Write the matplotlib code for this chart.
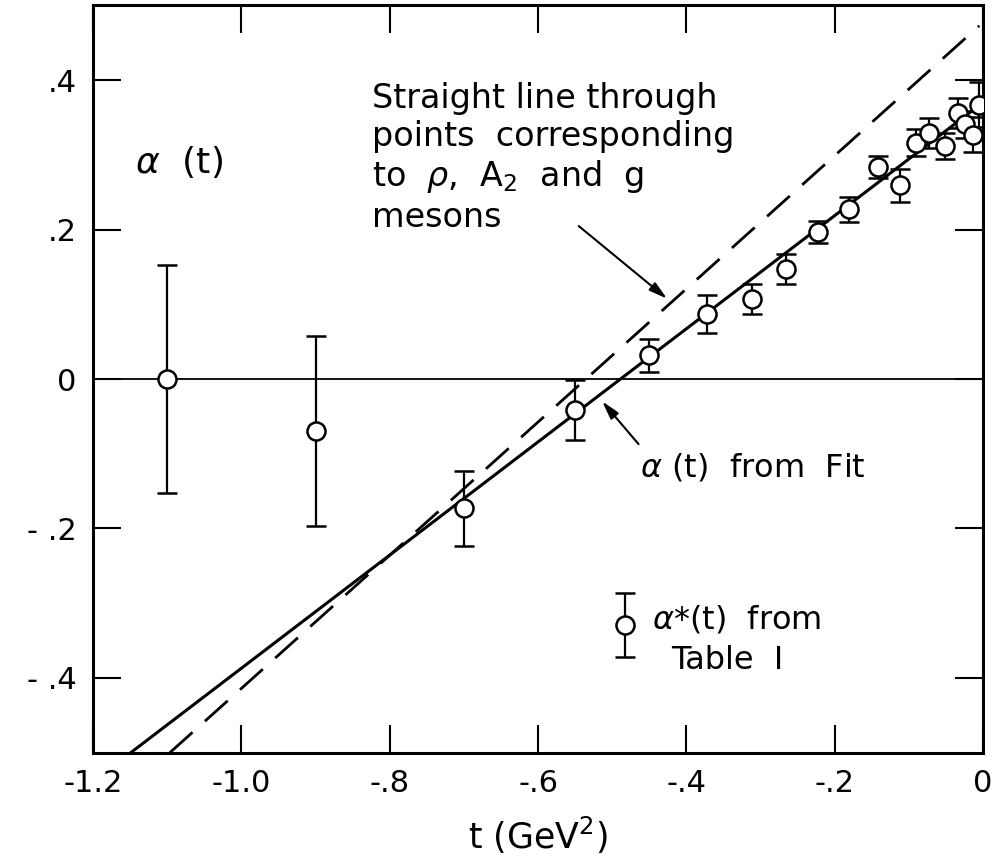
import numpy as np
import matplotlib.pyplot as plt

# alpha*(t) points
t_pts = [-1.10, -0.90, -0.70, -0.55, -0.45, -0.372, -0.311, -0.265, -0.223, -0.181,
         -0.142, -0.112, -0.090, -0.073, -0.051, -0.034, -0.024, -0.014, -0.005]
a_pts = [0.000, -0.070, -0.173, -0.041, 0.032, 0.087, 0.107, 0.147, 0.197, 0.227,
         0.284, 0.259, 0.316, 0.329, 0.312, 0.356, 0.341, 0.327, 0.367]
a_err = [0.153, 0.127, 0.050, 0.040, 0.022, 0.025, 0.020, 0.020, 0.015, 0.017,
         0.015, 0.022, 0.018, 0.020, 0.017, 0.020, 0.018, 0.023, 0.030]

# straight lines: alpha = intercept + slope * t
fit_intercept, fit_slope = 0.370, 0.757
mes_intercept, mes_slope = 0.477, 0.891

xticks = [-1.2, -1.0, -0.8, -0.6, -0.4, -0.2, 0.0]
xlabels = ['-1.2', '-1.0', '-.8', '-.6', '-.4', '-.2', '0']
yticks = [-0.4, -0.2, 0.0, 0.2, 0.4]
ylabels = ['- .4', '- .2', '0', '.2', '.4']

plt.rcParams['font.family'] = ['DejaVu Sans']

fig = plt.figure(figsize=(10.08, 8.66), dpi=100)
ax = fig.add_axes([0.0923, 0.1308, 0.9752 - 0.0923, 0.9939 - 0.1308])
ax.set_xlim(-1.2, 0.0)
ax.set_ylim(-0.5, 0.5)

ax.axhline(0, color='black', lw=1.3, zorder=1)

t_fit = np.linspace((-0.5 - fit_intercept) / fit_slope, 0.0, 50)
ax.plot(t_fit, fit_intercept + fit_slope * t_fit, color='black', lw=2.2, zorder=2)

t_mes = np.linspace((-0.5 - mes_intercept) / mes_slope, -0.005, 50)
ax.plot(t_mes, mes_intercept + mes_slope * t_mes, color='black', lw=2.0,
        dashes=(11, 6), zorder=2)

ax.errorbar(t_pts, a_pts, yerr=a_err, fmt='o', ms=13, mfc='white', mec='black',
            mew=1.8, ecolor='black', elinewidth=1.6, capsize=7, capthick=1.6, zorder=3)

# legend symbol
ax.errorbar([-0.483], [-0.329], yerr=[0.043], fmt='o', ms=13, mfc='white', mec='black',
            mew=1.8, ecolor='black', elinewidth=1.6, capsize=7, capthick=1.6,
            clip_on=False, zorder=3)
ax.text(-0.446, -0.322, r'$\alpha$*(t)  from', fontsize=23, va='center', ha='left')
ax.text(-0.420, -0.377, 'Table  I', fontsize=23, va='center', ha='left')

ax.text(-1.143, 0.29, r'$\alpha$  (t)', fontsize=26, va='center', ha='left')

ax.text(-0.824, 0.398, 'Straight line through\npoints  corresponding\n'
        r'to  $\rho$,  A$_2$  and  g' '\nmesons',
        fontsize=24, va='top', ha='left', linespacing=1.2)
ax.annotate('', xy=(-0.423, 0.105), xytext=(-0.548, 0.207),
            arrowprops=dict(arrowstyle='-|>,head_length=1.1,head_width=0.3',
                            color='black', lw=1.5))

ax.text(-0.462, -0.118, r'$\alpha$ (t)  from  Fit', fontsize=23, va='center', ha='left')
ax.annotate('', xy=(-0.516, -0.027), xytext=(-0.462, -0.090),
            arrowprops=dict(arrowstyle='-|>,head_length=1.1,head_width=0.3',
                            color='black', lw=1.5))

ax.set_xticks(xticks)
ax.set_xticklabels(xlabels)
ax.set_yticks(yticks)
ax.set_yticklabels(ylabels)
ax.tick_params(direction='in', length=20, width=1.5, top=True, right=True,
               labelsize=22, pad=12)
for s in ax.spines.values():
    s.set_linewidth(2.2)

ax.set_xlabel('t (GeV$^2$)', fontsize=25, labelpad=12)

fig.savefig('out.png', dpi=100)
